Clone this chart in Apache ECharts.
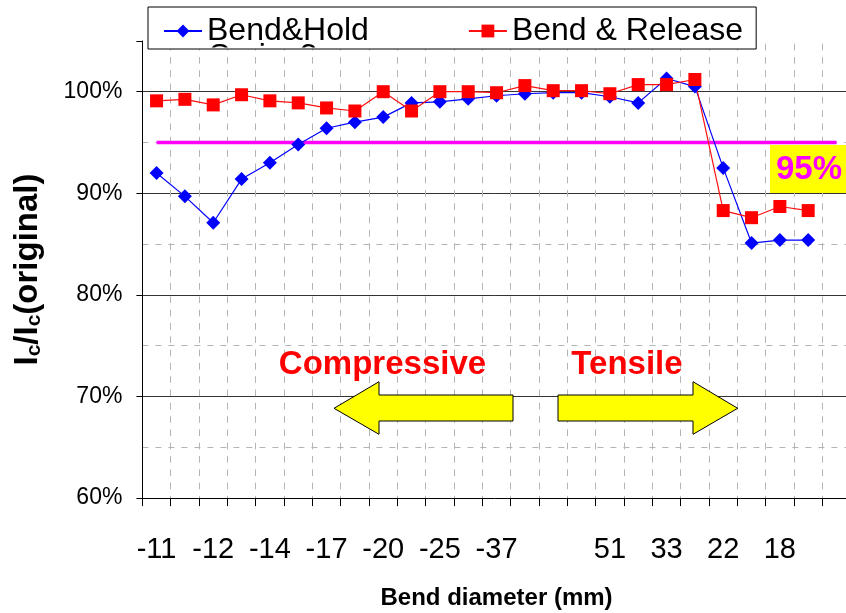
<!DOCTYPE html>
<html>
<head>
<meta charset="utf-8">
<script src="https://cdn.jsdelivr.net/npm/echarts@6/dist/echarts.min.js"></script>
<style>html,body{margin:0;padding:0;background:#fff;}#c{width:846px;height:613px;}</style>
</head>
<body>
<div id="c"></div>
<script>
// ---- data ----
var xTickLabels = ['-11','','-12','','-14','','-17','','-20','','-25','','-37','','','','51','','33','','22','','18','',''];
var bendHold = [92.0, 89.7, 87.1, 91.4, 93.0, 94.8, 96.4, 97.0, 97.5, 98.9, 99.0, 99.3, 99.6, 99.8, 99.9, 99.9, 99.5, 98.9, 101.3, 100.5, 92.5, 85.1, 85.4, 85.4];
var bendRelease = [99.1, 99.25, 98.7, 99.7, 99.1, 98.9, 98.4, 98.1, 100.0, 98.1, 100.0, 100.0, 99.9, 100.6, 100.1, 100.1, 99.8, 100.7, 100.7, 101.2, 88.3, 87.6, 88.7, 88.3];
var series3 = [95, 95, 95, 95, 95, 95, 95, 95, 95, 95, 95, 95, 95, 95, 95, 95, 95, 95, 95, 95, 95, 95, 95, 95, 95];
var yMin = 60, yMax = 105;

var FONT = '"Liberation Sans", Arial, sans-serif';
var chart = echarts.init(document.getElementById('c'), null, {renderer: 'canvas'});

var option = {
  animation: false,
  backgroundColor: '#fff',
  grid: {left: 142.4, top: 40.9, width: 708.3, height: 457.2, containLabel: false, outerBoundsMode: 'none'},
  legend: {
    left: 148, top: 7,
    padding: [8, 13, 2, 15],
    itemWidth: 38, itemHeight: 16, itemGap: 99,
    borderColor: '#000', borderWidth: 1, backgroundColor: '#fff',
    textStyle: {fontSize: 32, fontFamily: FONT, color: '#000'},
    data: ['Bend&Hold', 'Bend & Release'],
    selectedMode: false
  },
  xAxis: {
    type: 'category',
    boundaryGap: true,
    data: xTickLabels.map(function (_, i) { return String(i); }),
    axisLine: {lineStyle: {color: '#000', width: 1}},
    axisTick: {show: true, interval: 0, length: 8, lineStyle: {color: '#000'}},
    axisLabel: {
      interval: 0, margin: 37,
      fontSize: 29, fontFamily: FONT, color: '#000',
      formatter: function (v, i) { return xTickLabels[i]; }
    },
    splitLine: {show: true, interval: 0, lineStyle: {color: '#b4b4b4', width: 1, type: [6.7, 6.6], dashOffset: 10.5}},
    name: 'Bend diameter (mm)',
    nameLocation: 'middle', nameGap: 88,
    nameTextStyle: {fontSize: 24, fontWeight: 'bold', fontFamily: FONT, color: '#000'}
  },
  yAxis: [{
    type: 'value', min: yMin, max: yMax, interval: 10,
    axisLine: {show: true, lineStyle: {color: '#000', width: 1}},
    axisTick: {show: true, length: 6, lineStyle: {color: '#000'}},
    axisLabel: {
      margin: 20, fontSize: 23, fontFamily: FONT, color: '#000',
      formatter: function (v) { return (v % 10 === 0) ? v + '%' : ''; }
    },
    splitLine: {show: true, showMinLine: false, showMaxLine: false, lineStyle: {color: '#333', width: 1, type: 'solid'}},
    name: '{a|I}{b|c}{a|/I}{b|c}{a|(original)}',
    nameLocation: 'middle', nameRotate: 90, nameGap: 98,
    nameTextStyle: {
      fontFamily: FONT, fontWeight: 'bold', color: '#000',
      rich: {
        a: {fontSize: 33, fontWeight: 'bold', fontFamily: FONT, lineHeight: 36, verticalAlign: 'bottom'},
        b: {fontSize: 21, fontWeight: 'bold', fontFamily: FONT, lineHeight: 25, verticalAlign: 'bottom'}
      }
    }
  }, {
    type: 'value', min: yMin, max: yMax, interval: 5, z: -1,
    axisLine: {show: false}, axisTick: {show: false}, axisLabel: {show: false},
    splitLine: {show: true, showMinLine: false, showMaxLine: false, lineStyle: {color: '#b4b4b4', width: 1, type: [6, 7]}}
  }],
  series: [
    {
      name: 'Series3', type: 'line', data: series3,
      showSymbol: false, symbol: 'none',
      lineStyle: {color: '#ff00ff', width: 3.5}, itemStyle: {color: '#ff00ff'},
      silent: true
    },
    {
      name: 'Bend&Hold', type: 'line', data: bendHold,
      symbol: 'diamond', symbolSize: 14,
      lineStyle: {color: '#0000ff', width: 1.2}, itemStyle: {color: '#0000ff'}
    },
    {
      name: 'Bend & Release', type: 'line', data: bendRelease,
      symbol: 'rect', symbolSize: 13,
      lineStyle: {color: '#ff1010', width: 1.2}, itemStyle: {color: '#ff0000'}
    },
    {
      type: 'custom', coordinateSystem: 'none', data: [0], z: 10, silent: true,
      renderItem: function () {
        return {
          type: 'text',
          style: {x: 209, y: 41.5, text: 'Series3', fontSize: 32, fontFamily: FONT, fill: '#000', verticalAlign: 'top', align: 'left'},
          clipPath: {type: 'rect', shape: {x: 150, y: 30, width: 200, height: 17.5}}
        };
      }
    }
  ],
  graphic: [
    {type: 'polygon', shape: {points: [[334, 408.3], [379, 381.7], [379, 395], [513, 395], [513, 421], [379, 421], [379, 434.3]]},
     style: {fill: '#ffff00', stroke: '#000', lineWidth: 1}, z: 5},
    {type: 'polygon', shape: {points: [[558, 395], [693, 395], [693, 381.7], [737.7, 408.3], [693, 434.3], [693, 421], [558, 421]]},
     style: {fill: '#ffff00', stroke: '#000', lineWidth: 1}, z: 5},
    {type: 'text', x: 382.5, y: 365, style: {text: 'Compressive', fontSize: 33, fontWeight: 'bold', fontFamily: FONT, fill: '#ff0000', align: 'center', verticalAlign: 'middle'}, z: 5},
    {type: 'text', x: 627, y: 365, style: {text: 'Tensile', fontSize: 33, fontWeight: 'bold', fontFamily: FONT, fill: '#ff0000', align: 'center', verticalAlign: 'middle'}, z: 5},
    {type: 'rect', shape: {x: 770, y: 145, width: 80, height: 48}, style: {fill: '#ffff00'}, z: 5},
    {type: 'text', x: 809, y: 170, style: {text: '95%', fontSize: 33, fontWeight: 'bold', fontFamily: FONT, fill: '#ff00ff', align: 'center', verticalAlign: 'middle'}, z: 6}
  ]
};
chart.setOption(option);
</script>
</body>
</html>
